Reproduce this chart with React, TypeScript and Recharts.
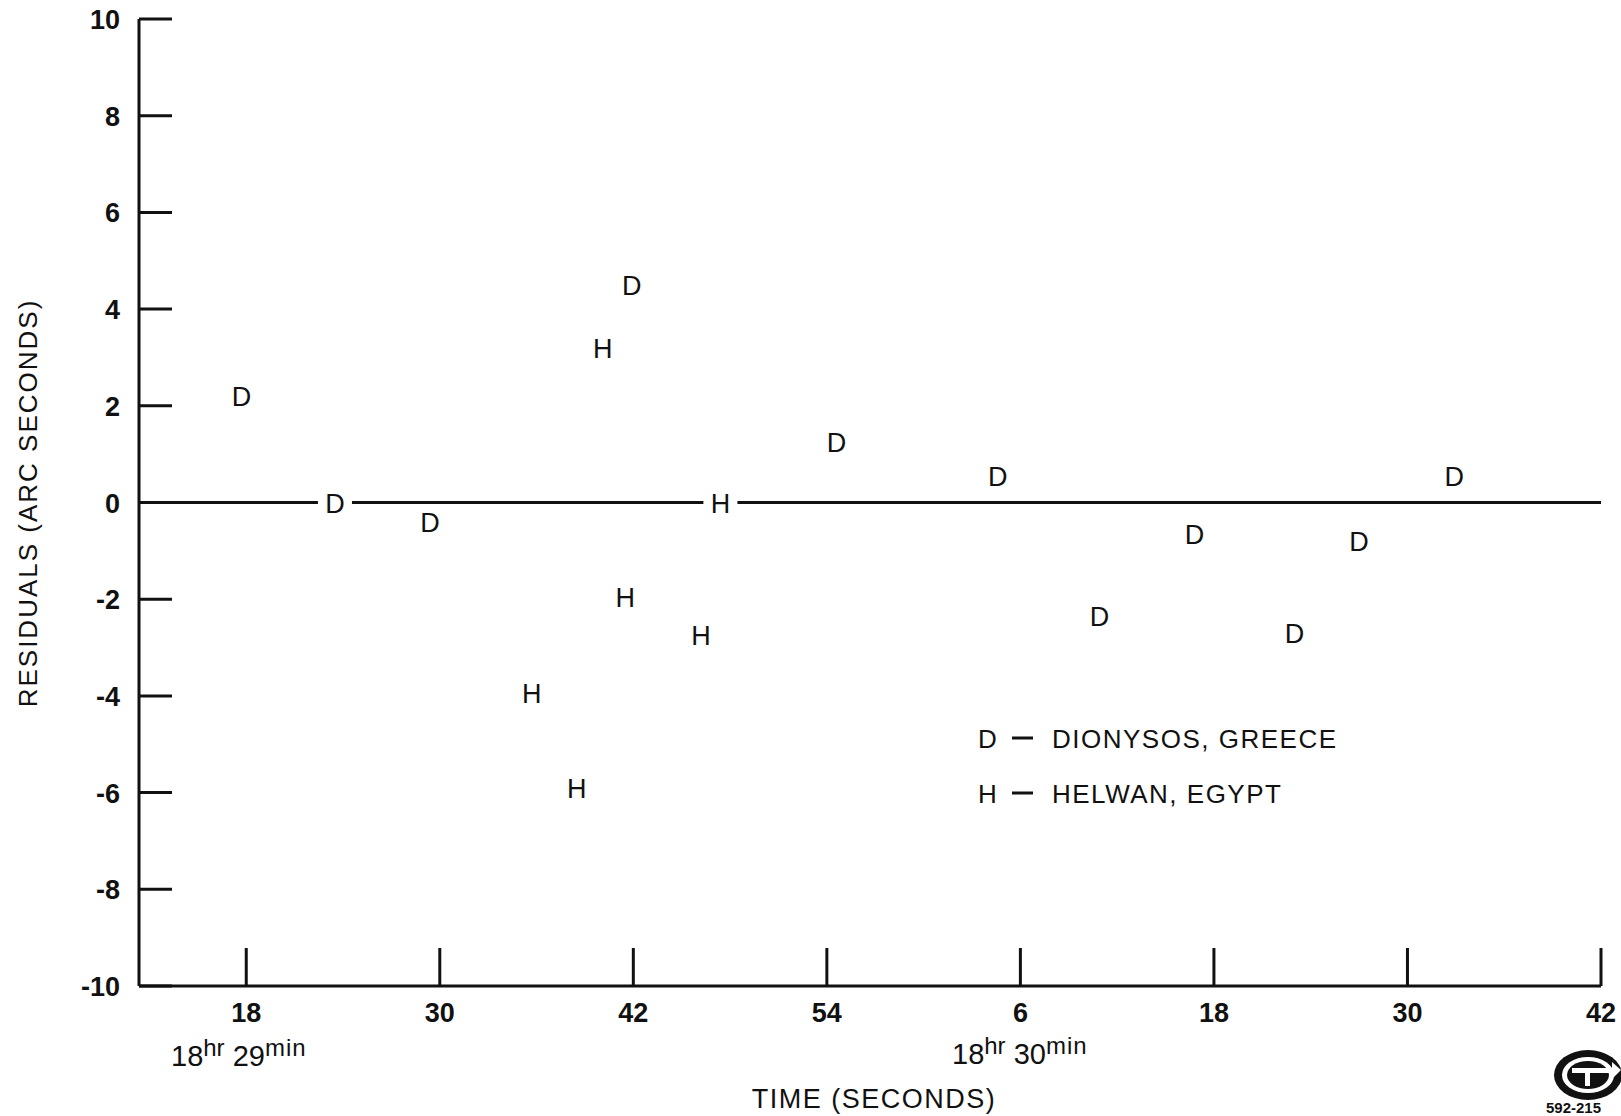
import React from 'react';
import { ScatterChart, Scatter, XAxis, YAxis } from 'recharts';

// Time in seconds after 18hr 29min, residuals in arc seconds
const dionysosTime = [17.7, 23.5, 29.4, 41.9, 54.6, 64.6, 70.9, 76.8, 83.0, 87.0, 92.9];
const dionysosResidual = [2.2, 0, -0.4, 4.5, 1.25, 0.55, -2.35, -0.65, -2.7, -0.8, 0.55];
const helwanTime = [35.7, 38.5, 40.1, 41.5, 46.2, 47.4];
const helwanResidual = [-3.95, -5.9, 3.2, -1.95, -2.75, 0];

const xTicks = [18, 30, 42, 54, 66, 78, 90, 102];
const xTickLabels = ['18', '30', '42', '54', '6', '18', '30', '42'];
const yTicks = [-10, -8, -6, -4, -2, 0, 2, 4, 6, 8, 10];
const zeroLine = [0, 0];
const xDomain: [number, number] = [11.35, 102];

const FONT = '"Liberation Sans", Arial, Helvetica, sans-serif';
const INK = '#111';

const dionysos = dionysosTime.map((x, i) => ({ x, y: dionysosResidual[i] }));
const helwan = helwanTime.map((x, i) => ({ x, y: helwanResidual[i] }));
const baseline = xDomain.map((x, i) => ({ x, y: zeroLine[i] }));

function letterShape(letter: string) {
  return (props: any) => {
    const { cx, cy } = props;
    if (cx == null || cy == null) return <g />;
    return (
      <g>
        <rect x={cx - 17} y={cy - 15} width={34} height={30} fill="#fff" />
        <text x={cx} y={cy + 10} textAnchor="middle" fontFamily={FONT} fontSize={27} fill={INK}>
          {letter}
        </text>
      </g>
    );
  };
}

const XTick = (props: any) => {
  const { x, y, payload } = props;
  const idx = xTicks.indexOf(payload.value);
  return (
    <g>
      <line x1={x} x2={x} y1={y} y2={y - 38} stroke={INK} strokeWidth={3} />
      <text x={x} y={y + 36} textAnchor="middle" fontFamily={FONT} fontWeight={700} fontSize={27} fill={INK}>
        {xTickLabels[idx]}
      </text>
    </g>
  );
};

const YTick = (props: any) => {
  const { x, y, payload } = props;
  return (
    <g>
      <line x1={x} x2={x + 33} y1={y} y2={y} stroke={INK} strokeWidth={3} />
      <text x={x - 19} y={y + 10} textAnchor="end" fontFamily={FONT} fontWeight={700} fontSize={27} fill={INK}>
        {payload.value}
      </text>
    </g>
  );
};

function TimeLabel({ x, y, minutes }: { x: number; y: number; minutes: string }) {
  return (
    <text x={x} y={y} fontFamily={FONT} fontSize={29} fill={INK}>
      18
      <tspan fontSize={24} dy={-10}>hr</tspan>
      <tspan fontSize={29} dy={10}> {minutes}</tspan>
      <tspan fontSize={24} dy={-10} letterSpacing={1}>min</tspan>
    </text>
  );
}

function LegendRow({ x, y, letter, label }: { x: number; y: number; letter: string; label: string }) {
  return (
    <g>
      <text x={x} y={y} fontFamily={FONT} fontSize={26} fill={INK}>{letter}</text>
      <line x1={x + 34} x2={x + 55} y1={y - 10} y2={y - 10} stroke={INK} strokeWidth={3} />
      <text x={x + 74} y={y} fontFamily={FONT} fontSize={26} letterSpacing={1.5} fill={INK}>{label}</text>
    </g>
  );
}

export default function App() {
  return (
    <div style={{ position: 'absolute', left: 0, top: 0, width: 1621, height: 1116, background: '#fff' }}>
      <ScatterChart
        width={1621}
        height={1116}
        margin={{ top: 19, right: 20, bottom: 129, left: 138 }}
      >
        <XAxis
          type="number"
          dataKey="x"
          domain={xDomain}
          ticks={xTicks}
          allowDataOverflow
          height={1}
          tickSize={0}
          tickMargin={0}
          tick={<XTick />}
          axisLine={{ stroke: INK, strokeWidth: 3 }}
          tickLine={false}
        />
        <YAxis
          type="number"
          dataKey="y"
          domain={[-10, 10]}
          ticks={yTicks}
          width={1}
          tickSize={0}
          tickMargin={0}
          tick={<YTick />}
          axisLine={{ stroke: INK, strokeWidth: 3 }}
          tickLine={false}
        />
        <Scatter
          name="zero"
          data={baseline}
          line={{ stroke: INK, strokeWidth: 3 }}
          shape={() => <g />}
          isAnimationActive={false}
        />
        <Scatter name="D" data={dionysos} shape={letterShape('D')} isAnimationActive={false} />
        <Scatter name="H" data={helwan} shape={letterShape('H')} isAnimationActive={false} />
      </ScatterChart>
      <svg
        width={1621}
        height={1116}
        style={{ position: 'absolute', left: 0, top: 0, pointerEvents: 'none' }}
      >
        <text
          transform="translate(37 503) rotate(-90)"
          textAnchor="middle"
          fontFamily={FONT}
          fontSize={26}
          letterSpacing={2}
          fill={INK}
        >
          RESIDUALS (ARC SECONDS)
        </text>
        <TimeLabel x={171} y={1066} minutes="29" />
        <TimeLabel x={952} y={1064} minutes="30" />
        <text x={874} y={1108} textAnchor="middle" fontFamily={FONT} fontSize={27} letterSpacing={1.5} fill={INK}>
          TIME (SECONDS)
        </text>
        <LegendRow x={978} y={748} letter="D" label="DIONYSOS, GREECE" />
        <LegendRow x={978} y={803} letter="H" label="HELWAN, EGYPT" />
        <g>
          <ellipse cx={1588} cy={1075} rx={34} ry={25} fill={INK} />
          <ellipse cx={1588} cy={1075} rx={26} ry={18} fill="#fff" />
          <ellipse cx={1588} cy={1075} rx={21} ry={14} fill={INK} />
          <rect x={1572} y={1068} width={42} height={5} fill="#fff" />
          <rect x={1585} y={1068} width={5} height={18} fill="#fff" />
          <polygon points="1612,1062 1621,1070 1612,1079" fill="#fff" />
        </g>
        <text x={1546} y={1113} fontFamily={FONT} fontWeight={700} fontSize={15} fill={INK}>
          592-215
        </text>
      </svg>
    </div>
  );
}
